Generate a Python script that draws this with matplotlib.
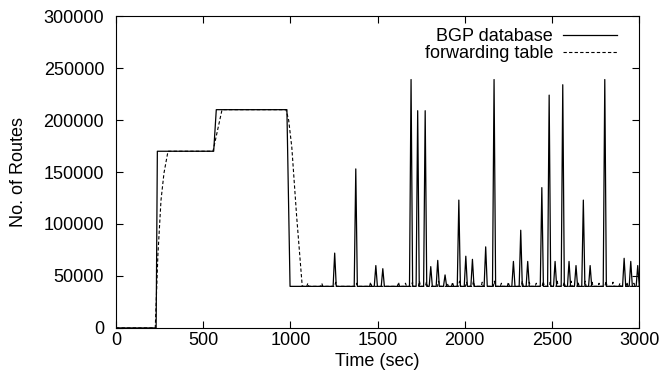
import numpy as np
import matplotlib
matplotlib.use("Agg")
import matplotlib.pyplot as plt

plt.rcParams['font.family'] = ['Liberation Sans', 'DejaVu Sans']

# BGP database: step phases, then baseline with spikes
bgp_t = [0, 230, 237, 560, 575, 980, 998]
bgp_v = [0, 0, 170000, 170000, 210000, 210000, 40000]
base_level = 40000
spike_t = [1254, 1375, 1490, 1530, 1692, 1730, 1773, 1805, 1845, 1887,
           1966, 2006, 2044, 2120, 2168, 2279, 2321, 2361, 2442, 2484,
           2518, 2562, 2598, 2638, 2680, 2719, 2803, 2914, 2952, 2992]
spike_v = [72000, 153000, 60000, 57000, 239000, 209000, 209000, 59000, 65000, 51000,
           123000, 69000, 66000, 78000, 239000, 64000, 94000, 64000, 135000, 224000,
           64000, 234000, 64000, 60000, 123000, 60000, 239000, 67000, 64000, 60000]

# forwarding table: lagged ramps, then baseline with small bumps
fwd_t = [0, 225, 240, 258, 275, 298, 556, 608, 975, 990, 1008, 1036, 1068]
fwd_v = [0, 0, 70000, 123000, 149000, 170000, 170000, 210000, 210000, 200000, 174000, 107000, 40000]
bump_t = [1100, 1180, 1260, 1380, 1460, 1620, 1660, 1700, 1740, 1780, 1850, 1900,
          1930, 1970, 2010, 2050, 2100, 2170, 2210, 2250, 2330, 2370, 2410, 2450,
          2490, 2530, 2570, 2610, 2650, 2690, 2730, 2770, 2810, 2850, 2890, 2930, 2970]
bump_v = [43000, 43000, 44000, 43000, 44000, 44000, 43000, 44000, 45000, 44000, 45000, 43000,
          44000, 45000, 44000, 45000, 44000, 45000, 43000, 44000, 45000, 44000, 43000, 45000,
          44000, 45000, 44000, 45000, 44000, 45000, 44000, 43000, 45000, 44000, 43000, 44000, 43000]
end_t = 3000


def with_spikes(t0, v0, peaks_t, peaks_v, half=9):
    t = list(t0)
    v = list(v0)
    for pt, pv in zip(peaks_t, peaks_v):
        t += [pt - half, pt, pt + half]
        v += [base_level, pv, base_level]
    t.append(end_t)
    v.append(base_level)
    return t, v


bx, by = with_spikes(bgp_t, bgp_v, spike_t, spike_v)
fx, fy = with_spikes(fwd_t, fwd_v, bump_t, bump_v, half=6)

fig = plt.figure(figsize=(6.63, 3.84), dpi=100)
ax = fig.add_axes([0.175, 0.146, 0.789, 0.812])

ax.plot(fx, fy, color='black', lw=0.8, linestyle=(0, (3, 2)), label='forwarding table')
ax.plot(bx, by, color='black', lw=0.9, label='BGP database')

ax.set_xlim(0, 3000)
ax.set_ylim(0, 300000)
ax.set_xticks(np.arange(0, 3001, 500))
ax.set_yticks(np.arange(0, 300001, 50000))
ax.tick_params(direction='in', top=True, right=True, labelsize=13, length=5)
ax.tick_params(axis='x', pad=3)
ax.tick_params(axis='y', pad=8.5)
ax.set_xlabel('Time (sec)', fontsize=13, labelpad=3)
ax.set_ylabel('No. of Routes', fontsize=13, labelpad=12)

h, l = ax.get_legend_handles_labels()
ax.legend(h[::-1], l[::-1], loc='upper right', bbox_to_anchor=(0.972, 0.985),
          frameon=False, markerfirst=False, fontsize=13, handlelength=3.0,
          handletextpad=0.55, labelspacing=0.02, borderaxespad=0.0,
          alignment='right')

fig.savefig('out.png', dpi=100)
